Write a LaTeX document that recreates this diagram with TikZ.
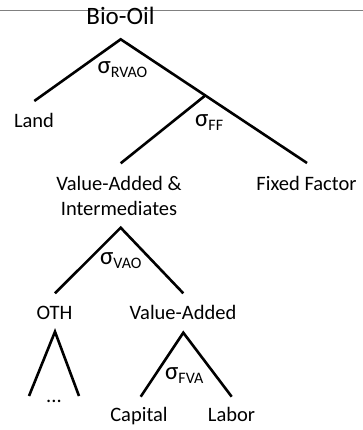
\documentclass[tikz,border=0pt]{standalone}
\usepackage{fontspec}
\setmainfont{Carlito}
\begin{document}
\begin{tikzpicture}[x=1pt,y=-1pt,
  lbl/.style={inner sep=0pt,anchor=base,font=\fontsize{20.5}{25.2}\selectfont,align=center},
  sig/.style={inner sep=0pt,anchor=base west},
  br/.style={line width=2.6pt,black}]
\useasboundingbox (0,0) rectangle (363,430);
\coordinate (hl) at (0,11);
\coordinate (hr) at (363,11);
\draw[gray,line width=1pt] (hl) -- (hr);
\node[inner sep=0pt,anchor=base,font=\fontsize{25}{30}\selectfont] (bio) at (120.5,25) {Bio-Oil};
% top split
\coordinate (a1) at (120.7,39.3);
\coordinate (land-e) at (34.3,101);
\coordinate (ff-e) at (307,163);
\coordinate (a2) at (205,95.7);
\coordinate (vai-e) at (120.7,163.3);
\draw[br] (land-e) -- (a1) -- (ff-e);
\draw[br] (a2) -- (vai-e);
\node[lbl] (land) at (34,128) {Land};
\node[lbl] (vai) at (119,215.7) {Value-Added \&\\Intermediates};
\node[lbl] (ff) at (306.5,190.7) {Fixed Factor};
\newcommand{\sg}[1]{{\fontsize{25}{25}\selectfont σ}\raisebox{-4pt}{\fontsize{16}{16}\selectfont #1}}
\node[sig] (s1) at (97.3,74) {\sg{RVAO}};
\node[sig] (s2) at (195,126.7) {\sg{FF}};
% VAO split
\coordinate (a3) at (120.7,227.7);
\coordinate (oth-e) at (55,293.3);
\coordinate (va-e) at (183.3,293.3);
\draw[br] (oth-e) -- (a3) -- (va-e);
\node[sig] (s3) at (100,264) {\sg{VAO}};
\node[lbl] (oth) at (54.5,319.3) {OTH};
\node[lbl] (va) at (183,319.3) {Value-Added};
% OTH split
\coordinate (a4) at (55,331.7);
\coordinate (o1) at (29,396);
\coordinate (o2) at (79,396);
\draw[br] (o1) -- (a4) -- (o2);
\node[lbl] (dots) at (54,402) {...};
% VA split
\coordinate (a5) at (183.3,332.7);
\coordinate (c-e) at (140.7,396.7);
\coordinate (l-e) at (231.7,396.7);
\draw[br] (c-e) -- (a5) -- (l-e);
\node[sig] (s4) at (165,379) {\sg{FVA}};
\node[lbl] (cap) at (139,421.5) {Capital};
\node[lbl] (lab) at (231.5,421.5) {Labor};
\end{tikzpicture}
\end{document}
